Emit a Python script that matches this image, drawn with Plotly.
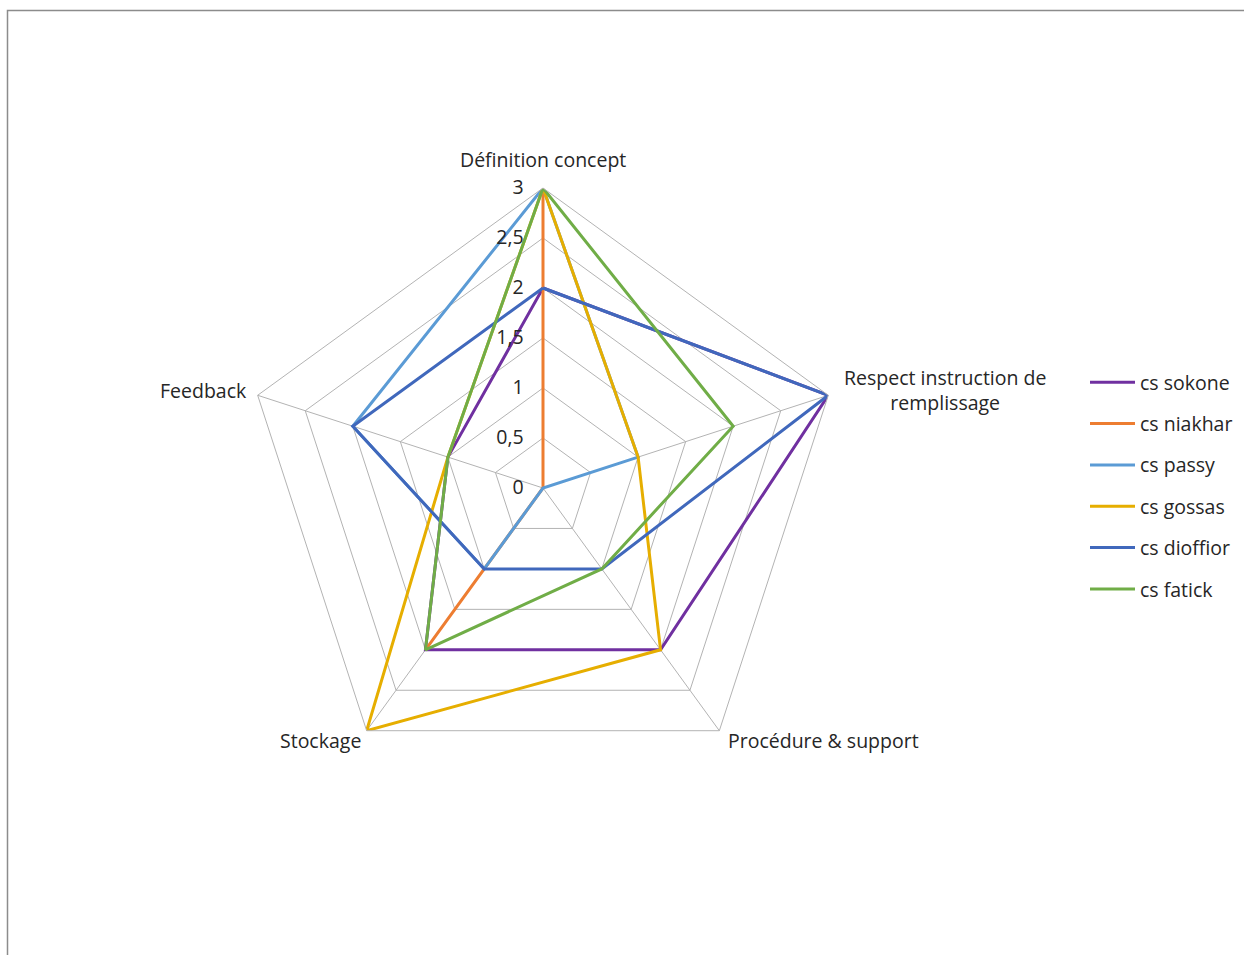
import plotly.graph_objects as go

categories = ["Définition concept", "Respect instruction de remplissage",
              "Procédure & support", "Stockage", "Feedback"]
category_labels = ["Définition concept", "Respect instruction de<br>remplissage",
                   "Procédure & support", "Stockage", "Feedback"]

series_names = ["cs sokone", "cs niakhar", "cs passy", "cs gossas", "cs dioffior", "cs fatick"]
sokone = [2, 3, 2, 2, 1]
niakhar = [3, 0, 0, 2, 0]
passy = [3, 1, 0, 1, 2]
gossas = [3, 1, 2, 3, 1]
dioffior = [2, 3, 1, 1, 2]
fatick = [3, 2, 1, 2, 1]
series_values = [sokone, niakhar, passy, gossas, dioffior, fatick]
colors = ["#7030A0", "#ED7D31", "#5B9BD5", "#E6AE00", "#4068BC", "#70AD47"]

radial_ticks = [0, 0.5, 1, 1.5, 2, 2.5, 3]

W, H = 1244, 955
cx, cy, R = 543, 488, 300

fig = go.Figure()
for name, vals, col in zip(series_names, series_values, colors):
    fig.add_trace(go.Scatterpolar(
        r=vals + [vals[0]],
        theta=categories + [categories[0]],
        mode="lines",
        name=name,
        legendgroup=name,
        line=dict(color=col, width=3),
    ))

font_family = "'Open Sans', sans-serif"
FS = 19.5
GRID = "#B3B3B3"

# category label placement (pixel positions of label anchors, Excel-style)
label_pos = [
    dict(x=543, y=160, xanchor="center", align="center"),
    dict(x=945, y=390, xanchor="center", align="center"),
    dict(x=727, y=740, xanchor="left", align="left"),
    dict(x=362, y=740, xanchor="right", align="right"),
    dict(x=248, y=390, xanchor="right", align="right"),
]
annotations = []
for txt, p in zip(category_labels, label_pos):
    annotations.append(dict(
        text=txt, xref="paper", yref="paper",
        x=p["x"] / W, y=1 - p["y"] / H,
        xanchor=p["xanchor"], yanchor="middle", align=p["align"],
        showarrow=False, borderpad=0,
        font=dict(size=FS, color="#262626", family=font_family),
    ))

fig.update_layout(
    width=W, height=H,
    margin=dict(l=0, r=0, t=0, b=0),
    paper_bgcolor="white",
    plot_bgcolor="white",
    separators=", ",
    font=dict(family=font_family, size=FS, color="#262626"),
    polar=dict(
        domain=dict(x=[(cx - R) / W, (cx + R) / W],
                    y=[(H - cy - R) / H, (H - cy + R) / H]),
        bgcolor="white",
        gridshape="linear",
        angularaxis=dict(
            rotation=90, direction="clockwise",
            showline=True, linecolor=GRID, linewidth=1,
            gridcolor=GRID, gridwidth=1,
            ticks="", showticklabels=False,
        ),
        radialaxis=dict(
            range=[0, 3], tickvals=radial_ticks,
            angle=90, tickangle=90,
            showline=False,
            ticks="outside", ticklen=12, tickcolor="rgba(0,0,0,0)",
            gridcolor=GRID, gridwidth=1,
            tickfont=dict(size=FS, color="#262626"),
            side="counterclockwise",
        ),
    ),
    legend=dict(
        x=1085 / W, y=1 - 363 / H, xanchor="left", yanchor="top",
        font=dict(size=FS, color="#262626"),
        tracegroupgap=13,
        itemwidth=45,
        bgcolor="rgba(0,0,0,0)",
    ),
    annotations=annotations,
    shapes=[dict(type="rect", xref="paper", yref="paper",
                 x0=7.5 / W, x1=1.02, y0=-0.02, y1=1 - 10.5 / H,
                 line=dict(color="#8C8C8C", width=1.5), fillcolor="rgba(0,0,0,0)",
                 layer="below")],
)

fig.write_html("out.html")
